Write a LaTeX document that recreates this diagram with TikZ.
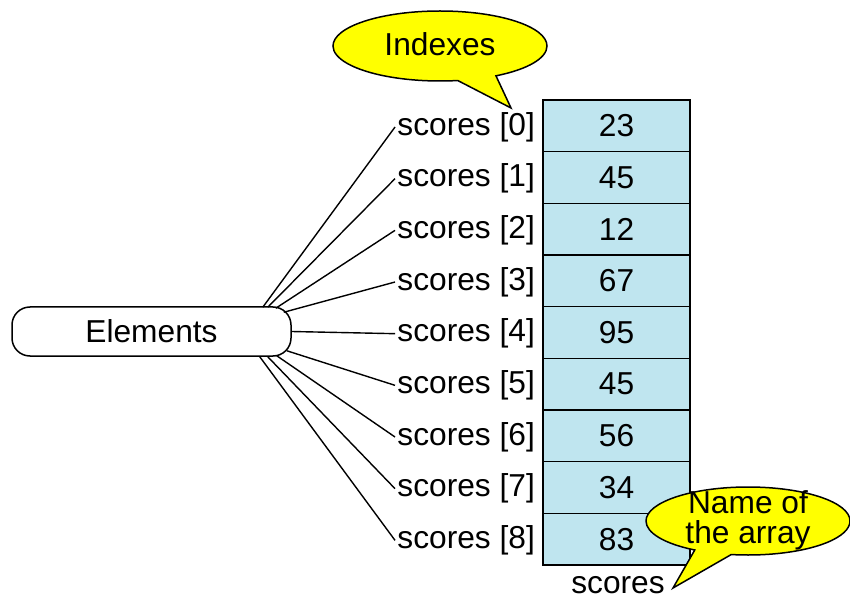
\documentclass[tikz,border=0pt]{standalone}
\usepackage{fontspec}
\setmainfont{Liberation Sans}
\usetikzlibrary{shapes.callouts,calc}
\definecolor{cellblue}{RGB}{191,229,239}
\definecolor{bubble}{RGB}{255,255,0}
\begin{document}
\begin{tikzpicture}[x=0.5pt,y=-0.5pt,
  every node/.style={font=\fontsize{15.85}{15}\selectfont},
  cell/.style={draw,line width=0.75pt,fill=cellblue,minimum width=73.5pt,minimum height=25.83pt,inner sep=0pt},
  idxlabel/.style={anchor=east,inner sep=1pt},
  link/.style={line width=0.7pt},
  bubblebox/.style={ellipse callout,draw,line width=0.75pt,fill=bubble,inner sep=0pt,callout pointer arc=22},
  elembox/.style={draw,line width=0.75pt,rounded corners=9pt,minimum width=139.5pt,minimum height=24.5pt,inner sep=0pt}
]
\useasboundingbox (0,0) rectangle (850,598);

% the array cells and their index labels
\foreach \v [count=\i from 0] in {23,45,12,67,95,45,56,34,83} {
  \node[cell] (c\i) at (616.5,{125.8+51.67*\i}) {\v};
  \node[idxlabel] (l\i) at ([xshift=-2.5pt,yshift=-0.6pt]c\i.west) {scores [\i]};
}

% elements box with the fan of connectors
\node[elembox] (el) at (151.5,331.5) {Elements};
\draw[link] ([shift={(-29,1)}]el.north east) -- (l0.west);
\draw[link] ([shift={(-24,1)}]el.north east) -- (l1.west);
\draw[link] ([shift={(-16,2)}]el.north east) -- (l2.west);
\draw[link] ([shift={(-8,6)}]el.north east) -- (l3.west);
\draw[link] (el.east) -- (l4.west);
\draw[link] ([shift={(-5,-6)}]el.south east) -- (l5.west);
\draw[link] ([shift={(-15,-1)}]el.south east) -- (l6.west);
\draw[link] ([shift={(-24,0)}]el.south east) -- (l7.west);
\draw[link] ([shift={(-32,0)}]el.south east) -- (l8.west);

% array name below the cells
\node (nm) at (618,585) {scores};

% speech bubbles
\coordinate (idxtip) at (511,108);
\node[bubblebox,minimum width=107pt,minimum height=35pt,callout absolute pointer={(idxtip)}] (idxbub) at (440,46) {};
\node (idxtxt) at (440,44) {Indexes};

\coordinate (nametip) at (673,588);
\node[bubblebox,minimum width=102pt,minimum height=34pt,callout absolute pointer={(nametip)}] (namebub) at (748,521) {};
\node[align=center] (nametxt) at (748,520) {Name of\\the array};
\end{tikzpicture}
\end{document}
